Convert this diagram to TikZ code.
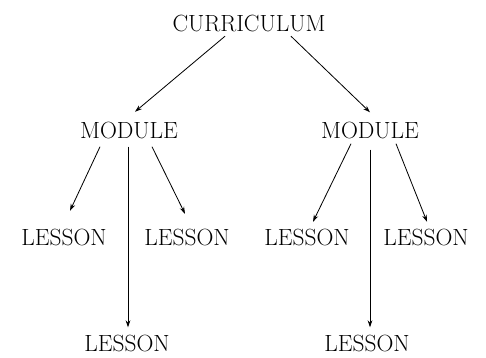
\documentclass[tikz,border=0pt]{standalone}
\usetikzlibrary{arrows.meta, calc}

\begin{document}
\begin{tikzpicture}[x=0.03cm, y=-0.03cm,
    unit node/.style={inner sep=0pt, font=\fontsize{20}{24}\selectfont, text height=14.5pt, text depth=0pt},
    tree edge/.style={-{Stealth[length=6pt, width=4pt]}, line width=0.7pt}
]
    \useasboundingbox (0,0) rectangle (486,357);

    % Nivel 0
    \node[unit node] (cur) at (249, 23.5) {CURRICULUM};

    % Nivel 1
    \node[unit node] (mod1) at (129, 130) {MODULE};
    \node[unit node] (mod2) at (370, 130) {MODULE};

    % Nivel 2
    \node[unit node] (les1) at (64, 236.5)  {LESSON};
    \node[unit node] (les2) at (187, 236.5) {LESSON};
    \node[unit node] (les3) at (307, 236.5) {LESSON};
    \node[unit node] (les4) at (426, 236.5) {LESSON};

    % Nivel 3
    \node[unit node] (les5) at (127, 343) {LESSON};
    \node[unit node] (les6) at (367, 343) {LESSON};

    % Aristas
    \draw[tree edge] ($(cur.south)+(-24,4)$) -- ($(mod1.north)+(6,-9.5)$);
    \draw[tree edge] ($(cur.south)+(42,4)$) -- ($(mod2.north)+(0,-9)$);
    \draw[tree edge] ($(mod1.south)+(-29,8)$) -- ($(les1.north)+(6,-17)$);
    \draw[tree edge] ($(mod1.south)+(-1,8)$) -- ($(les5.north)+(1,-7)$);
    \draw[tree edge] ($(mod1.south)+(23,8)$) -- ($(les2.north)+(-2,-14)$);
    \draw[tree edge] ($(mod2.south)+(-19,5)$) -- ($(les3.north)+(6,-6)$);
    \draw[tree edge] ($(mod2.south)+(0,11)$) -- ($(les6.north)+(3,-7)$);
    \draw[tree edge] ($(mod2.south)+(26,5)$) -- ($(les4.north)+(1,-6)$);
\end{tikzpicture}
\end{document}
